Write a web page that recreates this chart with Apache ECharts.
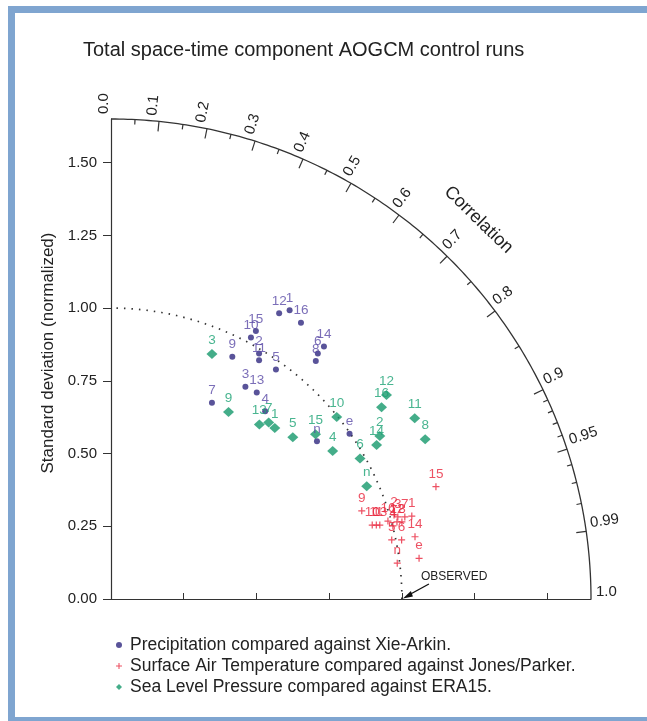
<!DOCTYPE html>
<html>
<head>
<meta charset="utf-8">
<script src="https://cdn.jsdelivr.net/npm/echarts@6/dist/echarts.min.js"></script>
<style>
  html, body { margin: 0; padding: 0; background: #fff; }
  #chart { width: 647px; height: 721px; }
</style>
</head>
<body>
<div id="chart"></div>
<script>
// values in normalized std-dev units: [x, y, model label]
var precip = [
  [0.614, 0.993, '1'], [0.509, 0.844, '2'], [0.462, 0.730, '3'], [0.530, 0.645, '4'],
  [0.567, 0.789, '5'], [0.711, 0.844, '6'], [0.347, 0.675, '7'], [0.704, 0.818, '8'],
  [0.417, 0.833, '9'], [0.481, 0.899, '10'], [0.509, 0.821, '11'], [0.578, 0.982, '12'],
  [0.501, 0.710, '13'], [0.732, 0.868, '14'], [0.498, 0.921, '15'], [0.653, 0.950, '16'],
  [0.820, 0.568, 'e'], [0.708, 0.542, 'n']
];
var sat = [
  [1.034, 0.285, '1'], [0.973, 0.289, '2'], [0.986, 0.282, '3'], [0.969, 0.251, '4'],
  [0.965, 0.203, '5'], [0.999, 0.203, '6'], [1.010, 0.282, '7'], [1.000, 0.265, '8'],
  [0.862, 0.303, '9'], [0.898, 0.254, '10'], [0.912, 0.254, '11'], [0.983, 0.265, '12'],
  [0.924, 0.254, '13'], [1.045, 0.214, '14'], [1.117, 0.386, '15'], [0.952, 0.268, '16'],
  [1.059, 0.140, 'e'], [0.984, 0.123, 'n']
];
var slp = [
  [0.563, 0.588, '1'], [0.924, 0.560, '2'], [0.347, 0.842, '3'], [0.762, 0.509, '4'],
  [0.625, 0.556, '5'], [0.856, 0.483, '6'], [0.542, 0.607, '7'], [1.080, 0.549, '8'],
  [0.404, 0.643, '9'], [0.776, 0.626, '10'], [1.044, 0.621, '11'], [0.947, 0.701, '12'],
  [0.510, 0.600, '13'], [0.913, 0.529, '14'], [0.703, 0.566, '15'], [0.930, 0.659, '16'],
  [0.879, 0.388, 'n']
];
var stdTicks = [0, 0.25, 0.5, 0.75, 1.0, 1.25, 1.5];
var corrLabels = [0, 0.1, 0.2, 0.3, 0.4, 0.5, 0.6, 0.7, 0.8, 0.9, 0.95, 0.99, 1.0];
var corrLabelText = ['0.0', '0.1', '0.2', '0.3', '0.4', '0.5', '0.6', '0.7', '0.8', '0.9', '0.95', '0.99', '1.0'];
var corrMajor = [0.1, 0.2, 0.3, 0.4, 0.5, 0.6, 0.7, 0.8, 0.9, 0.95, 0.99];
var corrMinor = [0.05, 0.15, 0.25, 0.35, 0.45, 0.55, 0.65, 0.75, 0.85, 0.91, 0.92, 0.93, 0.94, 0.96, 0.97, 0.98];
var RMAX = 1.65;
var FONT = 'Liberation Sans, Arial, Helvetica, sans-serif';

var chart = echarts.init(document.getElementById('chart'));

// arc, correlation ticks/labels, dotted std=1 circle, observed marker
function renderFrame(params, api) {
  var ux = api.size([1, 0])[0];
  var kids = [];
  var i, a, p;
  var arc = [], ref = [];
  for (i = 0; i <= 180; i++) {
    a = i / 180 * Math.PI / 2;
    arc.push(api.coord([RMAX * Math.cos(a), RMAX * Math.sin(a)]));
    ref.push(api.coord([Math.cos(a), Math.sin(a)]));
  }
  kids.push({ type: 'polyline', shape: { points: arc }, style: { stroke: '#333', lineWidth: 1.3, fill: null } });
  kids.push({ type: 'polyline', shape: { points: ref }, style: { stroke: '#333', lineWidth: 1.7, lineDash: [1.5, 6], fill: null } });

  function tick(c, len) {
    var an = Math.acos(c);
    var r2 = RMAX - len / ux;
    kids.push({ type: 'line', shape: {
      x1: api.coord([RMAX * Math.cos(an), 0])[0], y1: api.coord([0, RMAX * Math.sin(an)])[1],
      x2: api.coord([r2 * Math.cos(an), 0])[0], y2: api.coord([0, r2 * Math.sin(an)])[1]
    }, style: { stroke: '#333', lineWidth: 1.2 } });
  }
  corrMajor.forEach(function (c) { tick(c, 10); });
  corrMinor.forEach(function (c) { tick(c, 5); });

  corrLabels.forEach(function (c, k) {
    var an = Math.acos(c);
    var r = RMAX + 5 / ux;
    p = api.coord([r * Math.cos(an), r * Math.sin(an)]);
    kids.push({ type: 'text', x: p[0], y: p[1], rotation: an,
      style: { text: corrLabelText[k], fill: '#222', font: '15px ' + FONT, align: 'left', verticalAlign: 'bottom' } });
  });

  var ac = Math.acos(0.696), rc = 1.815;
  p = api.coord([rc * Math.cos(ac), rc * Math.sin(ac)]);
  kids.push({ type: 'text', x: p[0], y: p[1], rotation: ac - Math.PI / 2,
    style: { text: 'Correlation', fill: '#222', font: '18px ' + FONT, align: 'center', verticalAlign: 'middle' } });

  var ob = api.coord([1, 0]);
  kids.push({ type: 'line', shape: { x1: ob[0] + 27, y1: ob[1] - 15, x2: ob[0] + 6, y2: ob[1] - 3.5 }, style: { stroke: '#111', lineWidth: 1.4 } });
  kids.push({ type: 'polygon', shape: { points: [[ob[0] + 1, ob[1] - 0.5], [ob[0] + 9, ob[1] - 8], [ob[0] + 11, ob[1] - 2.5]] }, style: { fill: '#111' } });
  kids.push({ type: 'text', x: ob[0] + 19, y: ob[1] - 22,
    style: { text: 'OBSERVED', fill: '#222', font: '12px ' + FONT, align: 'left', verticalAlign: 'middle' } });

  return { type: 'group', children: kids };
}

var plusPath = 'path://M3.3,0h1.4v3.3h3.3v1.4h-3.3v3.3h-1.4v-3.3h-3.3v-1.4h3.3z';

function labelOpt(color) {
  return { show: true, position: 'top', distance: 2, color: color, fontSize: 13.5, fontFamily: FONT,
    formatter: function (p) { return p.value[2]; } };
}

chart.setOption({
  animation: false,
  backgroundColor: '#fff',
  textStyle: { fontFamily: FONT },
  title: {
    text: 'Total space-time component AOGCM control runs',
    left: 78, top: 35,
    textStyle: { fontSize: 20, fontWeight: 'normal', color: '#222', fontFamily: FONT }
  },
  graphic: [
    { type: 'rect', shape: { x: 8, y: 6, width: 647, height: 7 }, style: { fill: '#7fa5d0' } },
    { type: 'rect', shape: { x: 8, y: 6, width: 7, height: 715 }, style: { fill: '#7fa5d0' } },
    { type: 'rect', shape: { x: 8, y: 717, width: 647, height: 4 }, style: { fill: '#7fa5d0' } }
  ],
  legend: {
    orient: 'vertical', left: 111, top: 631, itemGap: 3,
    itemWidth: 6, itemHeight: 6,
    textStyle: { fontSize: 17.5, color: '#222', fontFamily: FONT, padding: [0, 0, 0, 3] },
    data: [
      { name: 'Precipitation compared against Xie-Arkin.', icon: 'circle' },
      { name: 'Surface Air Temperature compared against Jones/Parker.', icon: plusPath },
      { name: 'Sea Level Pressure compared against ERA15.', icon: 'diamond' }
    ]
  },
  grid: { left: 111, top: 119, width: 480, height: 480 },
  xAxis: {
    type: 'value', min: 0, max: RMAX,
    axisLine: { lineStyle: { color: '#333', width: 1.2 } },
    axisTick: { inside: true, length: 6, customValues: stdTicks, lineStyle: { color: '#333' } },
    axisLabel: { show: false },
    splitLine: { show: false }
  },
  yAxis: {
    type: 'value', min: 0, max: RMAX,
    name: 'Standard deviation (normalized)', nameLocation: 'middle', nameGap: 54,
    nameTextStyle: { fontSize: 17, color: '#222', fontFamily: FONT, padding: [0, 0, 0, 12] },
    axisLine: { lineStyle: { color: '#333', width: 1.2 } },
    axisTick: { length: 8, customValues: stdTicks, lineStyle: { color: '#333' } },
    axisLabel: { customValues: stdTicks, margin: 14, fontSize: 15, color: '#222', fontFamily: FONT,
      formatter: function (v) { return v.toFixed(2); } },
    splitLine: { show: false }
  },
  series: [
    { type: 'custom', renderItem: renderFrame, data: [[0, 0]], silent: true, clip: false, z: 1 },
    { name: 'Precipitation compared against Xie-Arkin.', type: 'scatter', data: precip,
      symbol: 'circle', symbolSize: 6, itemStyle: { color: '#30287f' }, label: labelOpt('#5a4aa6'), z: 3 },
    { name: 'Surface Air Temperature compared against Jones/Parker.', type: 'scatter', data: sat,
      symbol: plusPath, symbolSize: 7, itemStyle: { color: '#e8263c' }, label: labelOpt('#e8263c'), z: 3 },
    { name: 'Sea Level Pressure compared against ERA15.', type: 'scatter', data: slp,
      symbol: 'diamond', symbolSize: [11, 10], itemStyle: { color: '#15996b' }, label: labelOpt('#1ca274'), z: 3 }
  ]
});
</script>
</body>
</html>
